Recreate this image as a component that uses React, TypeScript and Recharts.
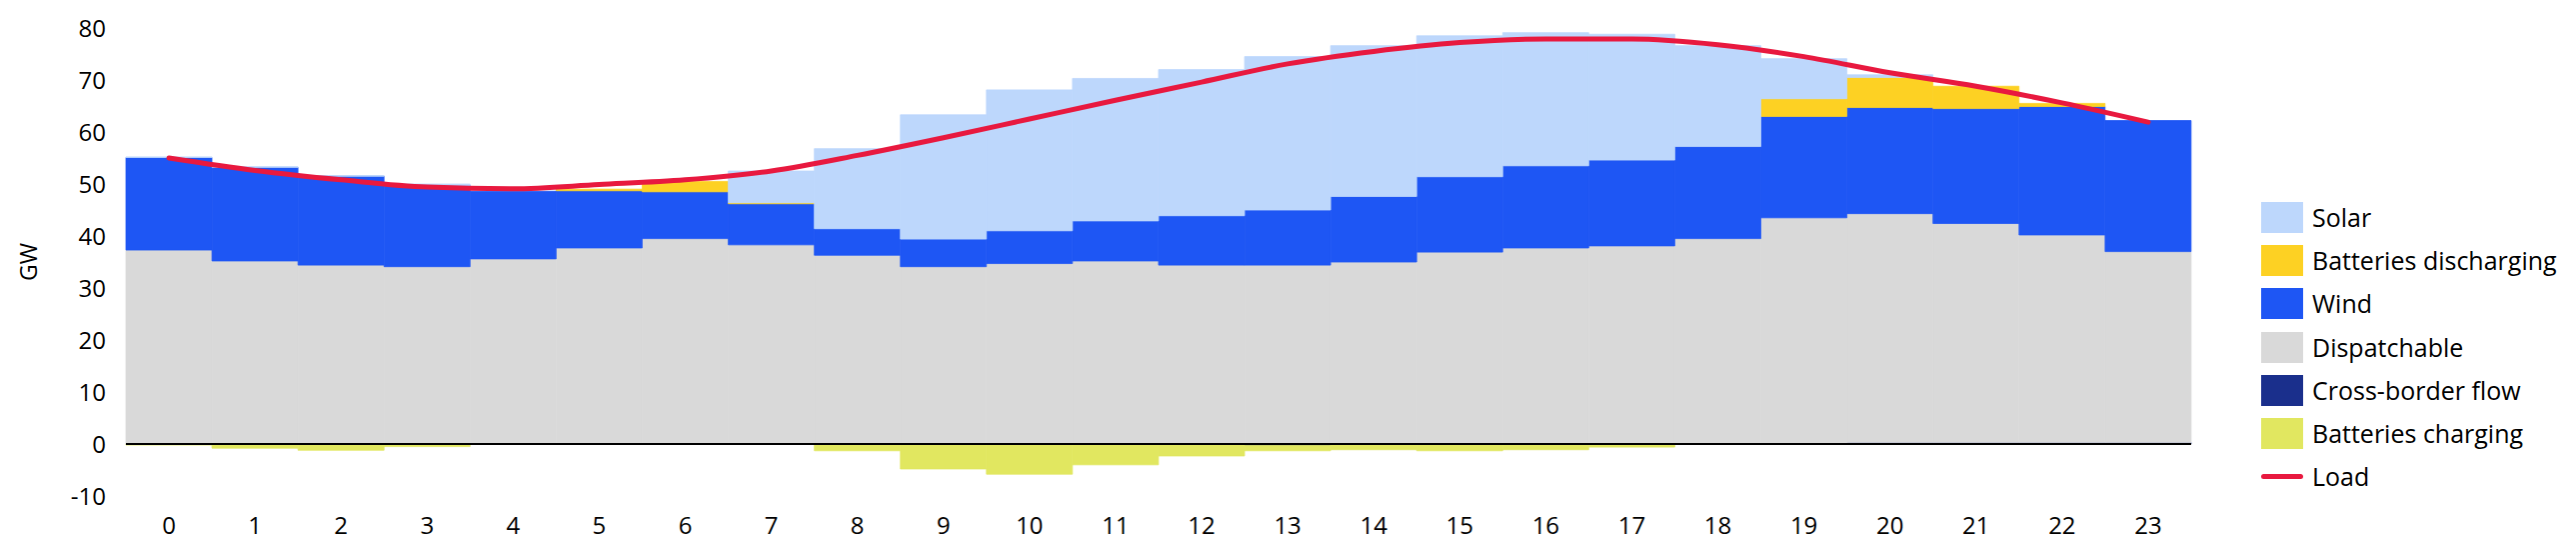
import {
  ComposedChart,
  Bar,
  Line,
  XAxis,
  YAxis,
  ReferenceLine
} from 'recharts'

const hours = ['0', '1', '2', '3', '4', '5', '6', '7', '8', '9', '10', '11', '12', '13', '14', '15', '16', '17', '18', '19', '20', '21', '22', '23']

// GW per hour
const crossBorder = [0, 0, 0, 0, 0, 0, 0, 0, 0, 0, 0, 0, 0, -0.3, 0, 0, 0, 0, 0, 0, 0.3, 0.3, 0.3, 0.3]
const batteriesCharging = [-0.2, -0.8, -1.2, -0.5, 0, 0, 0, 0, -1.3, -4.8, -5.8, -4.0, -2.3, -1.0, -1.1, -1.3, -1.1, -0.6, 0, 0, 0, 0, 0, 0]
const dispatchable = [37.3, 35.2, 34.4, 34.1, 35.6, 37.7, 39.5, 38.3, 36.3, 34.1, 34.7, 35.2, 34.4, 34.4, 35.0, 36.9, 37.7, 38.1, 39.5, 43.5, 44.0, 42.1, 39.9, 36.7]
const wind = [17.8, 18.0, 17.1, 15.6, 13.0, 11.0, 9.0, 7.9, 5.1, 5.3, 6.3, 7.7, 9.5, 10.6, 12.6, 14.5, 15.8, 16.5, 17.7, 19.5, 20.4, 22.1, 24.7, 25.2]
const batteriesDischarging = [0, 0, 0, 0, 0, 0.3, 2.0, 0.2, 0, 0, 0, 0, 0, 0, 0, 0, 0, 0, 0, 3.4, 5.8, 4.3, 0.6, 0]
const solar = [0.1, 0.1, 0.1, 0.3, 0, 0, 0, 6.1, 15.4, 23.9, 27.1, 27.4, 28.1, 29.5, 29.0, 27.1, 25.6, 24.2, 19.4, 7.7, 0.5, 0, 0, 0]
const load = [55.0, 52.6, 50.8, 49.4, 49.1, 49.9, 50.8, 52.5, 55.5, 58.9, 62.5, 66.1, 69.6, 73.1, 75.5, 77.2, 77.9, 77.9, 76.8, 74.5, 71.4, 68.8, 65.6, 61.9]

const yTicks = [-10, 0, 10, 20, 30, 40, 50, 60, 70, 80]

const colors = {
  solar: '#BDD7FC',
  discharging: '#FDD123',
  wind: '#1E56F4',
  dispatchable: '#D9D9D9',
  crossBorder: '#1A2F8C',
  charging: '#E1E760',
  load: '#E8193F'
}

const legendItems = [
  { label: 'Solar', color: colors.solar },
  { label: 'Batteries discharging', color: colors.discharging },
  { label: 'Wind', color: colors.wind },
  { label: 'Dispatchable', color: colors.dispatchable },
  { label: 'Cross-border flow', color: colors.crossBorder },
  { label: 'Batteries charging', color: colors.charging },
  { label: 'Load', color: colors.load, line: true }
]

const data = hours.map((hour, i) => ({
  hour,
  crossBorder: crossBorder[i],
  charging: batteriesCharging[i],
  dispatchable: dispatchable[i],
  wind: wind[i],
  discharging: batteriesDischarging[i],
  solar: solar[i],
  load: load[i]
}))

const font = '"Open Sans", sans-serif'

// stacked series, bottom to top (negatives stack downward from zero in the same order)
const series = [
  { key: 'crossBorder', color: colors.crossBorder },
  { key: 'charging', color: colors.charging },
  { key: 'dispatchable', color: colors.dispatchable },
  { key: 'wind', color: colors.wind },
  { key: 'discharging', color: colors.discharging },
  { key: 'solar', color: colors.solar }
]

export default function App() {
  return (
    <div style={{ position: 'relative', width: 2561, height: 542, fontFamily: font }}>
      <ComposedChart
        width={2561}
        height={542}
        data={data}
        stackOffset="sign"
        barCategoryGap={0}
        barGap={0}
        margin={{ top: 20, right: 377, left: 0, bottom: 0 }}
      >
        <XAxis
          dataKey="hour"
          axisLine={false}
          tickLine={false}
          height={54}
          tickMargin={15}
          interval={0}
          tick={{ fill: '#000', fontSize: 24, fontFamily: font }}
        />
        <YAxis
          domain={[-10, 80]}
          ticks={yTicks}
          interval={0}
          width={118}
          axisLine={false}
          tickLine={false}
          tickMargin={14}
          tick={{ fill: '#000', fontSize: 24, fontFamily: font }}
          label={({ viewBox }: any) => {
            const cx = 20
            const cy = viewBox.y + viewBox.height / 2
            return (
              <text
                x={cx}
                y={cy}
                transform={`rotate(-90 ${cx} ${cy})`}
                textAnchor="middle"
                dominantBaseline="central"
                fill="#000"
                fontSize={23}
                fontFamily={font}
              >
                GW
              </text>
            )
          }}
        />
        {series.map((s) => (
          <Bar
            key={s.key}
            dataKey={s.key}
            stackId="s"
            fill={s.color}
            stroke={s.color}
            strokeWidth={0.8}
            isAnimationActive={false}
          />
        ))}
        <ReferenceLine y={0} stroke="#000" strokeWidth={2} />
        <Line
          type="monotone"
          dataKey="load"
          stroke={colors.load}
          strokeWidth={5}
          strokeLinecap="round"
          dot={false}
          activeDot={false}
          isAnimationActive={false}
        />
      </ComposedChart>

      <div style={{ position: 'absolute', left: 2254, top: 188 }}>
        {legendItems.map((item) => (
          <div key={item.label} style={{ display: 'flex', alignItems: 'center', height: 43.2 }}>
            {item.line ? (
              <div style={{ width: 42, height: 5, borderRadius: 3, background: item.color }} />
            ) : (
              <div style={{ width: 42, height: 31, background: item.color }} />
            )}
            <span style={{ marginLeft: 9, fontSize: 25, color: '#000', whiteSpace: 'nowrap', lineHeight: 1 }}>
              {item.label}
            </span>
          </div>
        ))}
      </div>
    </div>
  )
}
